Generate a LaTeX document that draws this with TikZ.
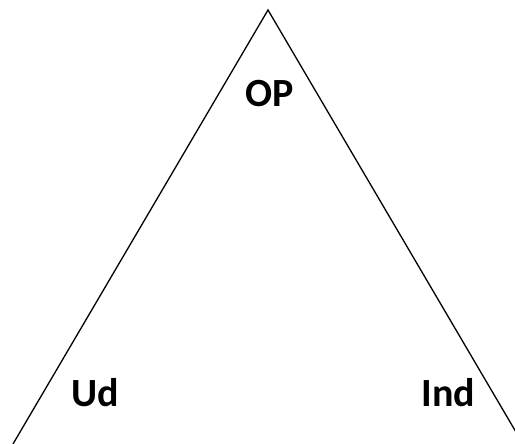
\documentclass[tikz,border=0pt]{standalone}
\usepackage{fontspec}
\setmainfont{Carlito}
\begin{document}
\begin{tikzpicture}[x=1pt,y=1pt,
  lbl/.style={font=\bfseries\fontsize{40}{46}\selectfont, anchor=base, inner sep=0pt},
  edge/.style={line width=1.3pt, black}]
\useasboundingbox (0,0) rectangle (515,444);
\clip (0,0) rectangle (515,444);
\coordinate (apex) at (268,434);
\coordinate (bl) at (13,0);
\coordinate (br) at (523,0);
\draw[edge] (bl) -- (apex) -- (br);
\node[lbl] (op) at (269.5,337) {OP};
\node[lbl] (ud) at (95,37) {Ud};
\node[lbl] (ind) at (448.5,37) {Ind};
\end{tikzpicture}
\end{document}
